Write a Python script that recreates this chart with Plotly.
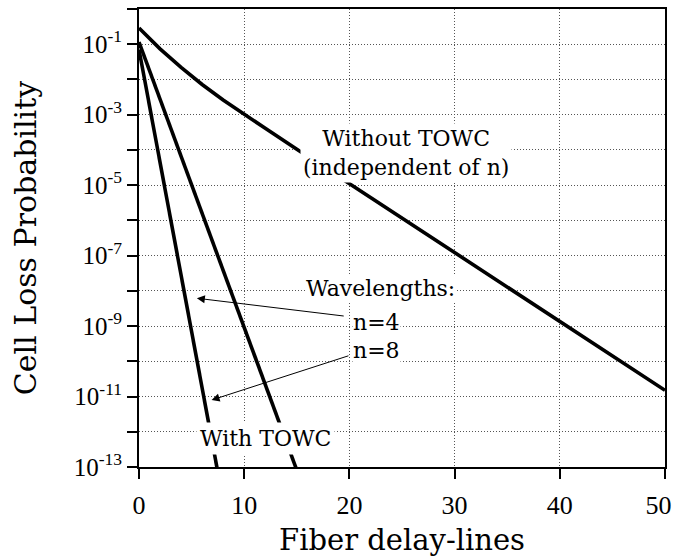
import plotly.graph_objects as go

# ---- data ----
x_without = [0, 2, 4, 6, 8, 10, 12, 15, 20, 25, 30, 35, 40, 45, 50]
p_without = [2.9e-1, 7.4e-2, 2.2e-2, 7.2e-3, 2.6e-3, 1.0e-3, 4.1e-4, 1.05e-4,
             1.1e-5, 1.15e-6, 1.2e-7, 1.26e-8, 1.38e-9, 1.45e-10, 1.5e-11]

x_n4 = [0, 2, 4, 6, 8, 10, 12, 14, 16]
p_n4 = [1.15e-1, 2.75e-3, 6.6e-5, 1.6e-6, 3.8e-8, 9.1e-10, 2.2e-11, 5.2e-13, 1.26e-14]

x_n8 = [0, 1, 2, 3, 4, 5, 6, 7, 8]
p_n8 = [7.1e-2, 1.8e-3, 4.5e-5, 1.1e-6, 2.8e-8, 7.1e-10, 1.8e-11, 4.5e-13, 1.1e-14]

x_ticks = [0, 10, 20, 30, 40, 50]
x_ticklabels = ["0", "10", "20", "30", "40", "50\u00a0\u00a0"]
y_tickvals = [10.0 ** (-k) for k in range(0, 14)]
y_ticktext = ["" if k % 2 == 0 else "10<sup>-%d</sup>" % k for k in range(0, 14)]

TEXT_FONT = "DejaVu Serif"
NUM_FONT = "Liberation Serif"

fig = go.Figure()
for xs, ps in [(x_without, p_without), (x_n4, p_n4), (x_n8, p_n8)]:
    fig.add_trace(go.Scatter(x=xs, y=ps, mode="lines",
                             line=dict(color="black", width=3.6),
                             showlegend=False, hoverinfo="skip"))

ann_font = dict(family=TEXT_FONT, size=22, color="black")
annotations = [
    dict(x=25.4, y=-4.08, xref="x", yref="y", text="Without TOWC<br>(independent of n)",
         showarrow=False, font=ann_font, bgcolor="white", borderpad=2),
    dict(x=23.0, y=-7.93, xref="x", yref="y", text="Wavelengths:",
         showarrow=False, font=ann_font, bgcolor="white", borderpad=0),
    dict(x=22.6, y=-8.89, xref="x", yref="y", text="n=4",
         showarrow=False, font=ann_font, bgcolor="white", borderpad=0),
    dict(x=22.6, y=-9.69, xref="x", yref="y", text="n=8",
         showarrow=False, font=ann_font, bgcolor="white", borderpad=0),
    dict(x=12.0, y=-12.19, xref="x", yref="y", text="With TOWC",
         showarrow=False, font=ann_font, bgcolor="white", borderpad=3),
    # arrows
    dict(x=5.5, y=-8.21, ax=19.6, ay=-8.72, xref="x", yref="y", axref="x", ayref="y",
         text="", showarrow=True, arrowhead=2, arrowsize=1.6, arrowwidth=1, arrowcolor="black"),
    dict(x=6.9, y=-11.1, ax=20.05, ay=-9.83, xref="x", yref="y", axref="x", ayref="y",
         text="", showarrow=True, arrowhead=2, arrowsize=1.6, arrowwidth=1, arrowcolor="black"),
]

grid = dict(showgrid=True, gridcolor="#555", griddash="1px,2px", gridwidth=1, zeroline=False)

fig.update_layout(
    width=673, height=560,
    margin=dict(l=139, r=8, t=9, b=93),
    paper_bgcolor="white", plot_bgcolor="white",
    font=dict(family=TEXT_FONT, color="black"),
    annotations=annotations,
)
fig.update_xaxes(
    range=[0, 50], tickvals=x_ticks, ticktext=x_ticklabels,
    ticks="outside", ticklen=10, tickwidth=2,
    tickcolor="black", showline=True, linecolor="black", linewidth=2, mirror=True,
    automargin=False, ticklabeloverflow="allow", ticklabelstandoff=4,
    tickfont=dict(family=NUM_FONT, size=26),
    title=dict(text="Fiber delay-lines", font=dict(family=TEXT_FONT, size=29), standoff=10),
    **grid,
)
fig.update_yaxes(
    type="log", range=[-13, 0], tickvals=y_tickvals, ticktext=y_ticktext,
    ticks="outside", ticklen=10, tickwidth=2, tickcolor="black",
    showline=True, linecolor="black", linewidth=2, mirror=True,
    automargin=False, ticklabeloverflow="allow",
    tickfont=dict(family=NUM_FONT, size=25),
    title=dict(text="Cell Loss Probability", font=dict(family=TEXT_FONT, size=30), standoff=28),
    **grid,
)

fig.write_html("out.html")
